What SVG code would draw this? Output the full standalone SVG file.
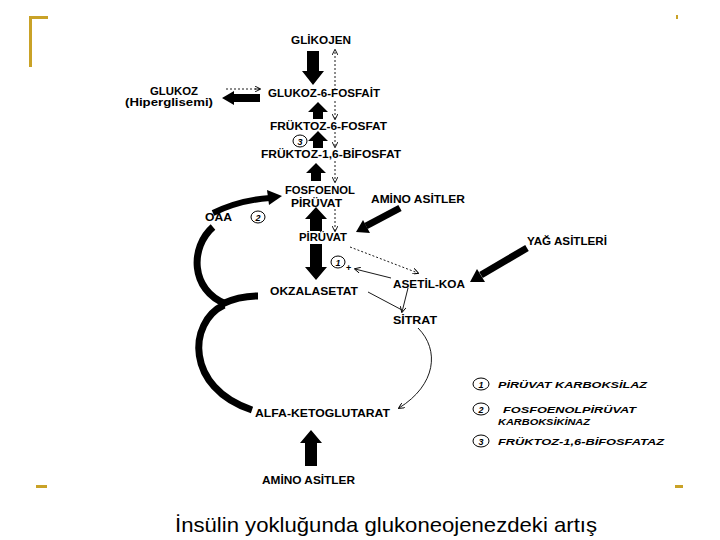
<svg xmlns="http://www.w3.org/2000/svg" width="720" height="540" viewBox="0 0 720 540">
<defs>
<marker id="ah" viewBox="0 0 8 8" refX="7" refY="4" markerWidth="6" markerHeight="6" orient="auto" markerUnits="userSpaceOnUse">
<path d="M0,0 L8,4 L0,8" fill="none" stroke="#000" stroke-width="1.2"/>
</marker>
</defs>
<style>
.l{font-family:"Liberation Sans",Arial,sans-serif;font-weight:bold;font-size:10px;fill:#000}
.g{font-family:"Liberation Sans",Arial,sans-serif;font-weight:bold;font-style:italic;font-size:9.5px;fill:#000}
.n{font-family:"Liberation Sans",Arial,sans-serif;font-weight:bold;font-style:italic;font-size:9px;fill:#000;text-anchor:middle}
.c{fill:none;stroke:#000;stroke-width:1}
.blk{fill:#000}
.thick{fill:none;stroke:#000;stroke-width:7}
.thin{fill:none;stroke:#000;stroke-width:0.9}
.dash{fill:none;stroke:#000;stroke-width:0.9;stroke-dasharray:2,2}
.gold{fill:#C9A227}
</style>
<rect width="720" height="540" fill="#fff"/>
<g id="frame">
<rect class="gold" x="29" y="16" width="3" height="51"/>
<rect class="gold" x="29" y="16" width="19" height="3"/>
<rect class="gold" x="36" y="485" width="11" height="3"/>
<rect class="gold" x="675" y="485" width="8" height="3"/>
<rect class="gold" x="676" y="15" width="2" height="4"/>
</g>
<g id="connectors">
<path class="blk" d="M307,51 L319,51 L319,71 L324,71 L313,85 L302,71 L307,71 Z"/>
<path class="blk" d="M313,119 L313,112 L308,112 L318,102 L328,112 L323,112 L323,119 Z"/>
<path class="blk" d="M313,148 L313,141 L308,141 L318,131 L328,141 L323,141 L323,148 Z"/>
<path class="blk" d="M311,181 L311,173 L306,173 L316,163 L326,173 L321,173 L321,181 Z"/>
<path class="blk" d="M310,231 L310,219 L305,219 L316,207 L327,219 L322,219 L322,231 Z"/>
<path class="blk" d="M310,244 L322,244 L322,267 L327,267 L316,280 L305,267 L310,267 Z"/>
<path class="blk" d="M260,94 L234,94 L234,91 L222,98 L234,105 L234,102 L260,102 Z"/>
<path class="blk" d="M305,466 L305,443 L300,443 L311,430 L322,443 L317,443 L317,466 Z"/>
<line class="dash" x1="260" y1="89" x2="226" y2="89"/>
<line class="thin" x1="255" y1="89" x2="260" y2="89" marker-end="url(#ah)"/>
<line class="dash" x1="335" y1="90" x2="335" y2="50" marker-end="url(#ah)"/>
<line class="dash" x1="335" y1="101" x2="335" y2="119" marker-end="url(#ah)"/>
<line class="dash" x1="335" y1="132" x2="335" y2="147" marker-end="url(#ah)"/>
<line class="dash" x1="335" y1="161" x2="335" y2="182" marker-end="url(#ah)"/>
<line class="dash" x1="335" y1="209" x2="335" y2="231" marker-end="url(#ah)"/>
<line class="thick" x1="400" y1="208" x2="366" y2="226"/>
<polygon class="blk" points="356,232 370,233 363,220"/>
<line class="thick" x1="527" y1="248" x2="481" y2="275"/>
<polygon class="blk" points="470,282 485,282 477,269"/>
<path class="thick" d="M213,213 Q240,200 270,198" style="stroke-width:6"/>
<polygon class="blk" points="282,196 267,190 269,205"/>
<path class="thick" d="M213,227 C190,247 190,290 226,304"/>
<path class="thick" d="M224,305 C188,322 185,388 252,410"/>
<path class="thick" d="M222,304 C235,298 248,296 258,296"/>
<line class="dash" x1="350" y1="247" x2="418" y2="273" marker-end="url(#ah)"/>
<line class="thin" x1="391" y1="278" x2="355" y2="269" marker-end="url(#ah)"/>
<line class="thin" x1="368" y1="292" x2="402" y2="310"/>
<line class="thin" x1="408" y1="288" x2="402" y2="312" marker-end="url(#ah)"/>
<path class="thin" d="M418,328 C440,350 436,385 399,408" marker-end="url(#ah)"/>
</g>
<g id="n-glikojen"><text class="l" x="291" y="44" textLength="60" lengthAdjust="spacingAndGlyphs">GLİKOJEN</text></g>
<g id="n-g6p"><text class="l" x="268" y="97" textLength="112" lengthAdjust="spacingAndGlyphs">GLUKOZ-6-FOSFAİT</text></g>
<g id="n-glukoz">
<text class="l" x="150" y="95" textLength="48" lengthAdjust="spacingAndGlyphs">GLUKOZ</text>
<text class="l" x="125" y="106" textLength="88" lengthAdjust="spacingAndGlyphs">(Hiperglisemi)</text>
</g>
<g id="n-f6p"><text class="l" x="270" y="130" textLength="117" lengthAdjust="spacingAndGlyphs">FRÜKTOZ-6-FOSFAT</text></g>
<g id="n-c3"><ellipse class="c" cx="300" cy="141" rx="7" ry="6"/><text class="n" x="300" y="144.5">3</text></g>
<g id="n-f16bp"><text class="l" x="261" y="158" textLength="140" lengthAdjust="spacingAndGlyphs">FRÜKTOZ-1,6-BİFOSFAT</text></g>
<g id="n-pep">
<text class="l" x="285" y="194" textLength="70" lengthAdjust="spacingAndGlyphs">FOSFOENOL</text>
<text class="l" x="291" y="207" textLength="51" lengthAdjust="spacingAndGlyphs">PİRÜVAT</text>
</g>
<g id="n-amino1"><text class="l" x="371" y="203" textLength="94" lengthAdjust="spacingAndGlyphs">AMİNO ASİTLER</text></g>
<g id="n-oaa"><text class="l" x="205" y="221" textLength="27" lengthAdjust="spacingAndGlyphs">OAA</text></g>
<g id="n-c2"><ellipse class="c" cx="258" cy="217" rx="7" ry="6"/><text class="n" x="258" y="220.5">2</text></g>
<g id="n-piruvat"><text class="l" x="299" y="241" textLength="48" lengthAdjust="spacingAndGlyphs">PİRÜVAT</text></g>
<g id="n-yag"><text class="l" x="527" y="245" textLength="80" lengthAdjust="spacingAndGlyphs">YAĞ ASİTLERİ</text></g>
<g id="n-c1"><ellipse class="c" cx="338" cy="262" rx="7" ry="6"/><text class="n" x="338" y="265.5">1</text>
<text class="l" x="346" y="271" style="font-size:9px">+</text></g>
<g id="n-asetil"><text class="l" x="393" y="288" textLength="72" lengthAdjust="spacingAndGlyphs">ASETİL-KOA</text></g>
<g id="n-okzal"><text class="l" x="270" y="295" textLength="88" lengthAdjust="spacingAndGlyphs">OKZALASETAT</text></g>
<g id="n-sitrat"><text class="l" x="393" y="324" textLength="44" lengthAdjust="spacingAndGlyphs">SİTRAT</text></g>
<g id="n-alfa"><text class="l" x="255" y="417" textLength="135" lengthAdjust="spacingAndGlyphs">ALFA-KETOGLUTARAT</text></g>
<g id="n-amino2"><text class="l" x="262" y="484" textLength="93" lengthAdjust="spacingAndGlyphs">AMİNO ASİTLER</text></g>
<g id="legend">
<ellipse class="c" cx="481" cy="384" rx="8" ry="6"/><text class="n" x="481" y="387.5">1</text>
<text class="g" x="498" y="388" textLength="149" lengthAdjust="spacingAndGlyphs">PİRÜVAT KARBOKSİLAZ</text>
<ellipse class="c" cx="481" cy="409" rx="8" ry="6"/><text class="n" x="481" y="412.5">2</text>
<text class="g" x="503" y="413" textLength="133" lengthAdjust="spacingAndGlyphs">FOSFOENOLPİRÜVAT</text>
<text class="g" x="498" y="425" textLength="92" lengthAdjust="spacingAndGlyphs">KARBOKSİKİNAZ</text>
<ellipse class="c" cx="481" cy="441" rx="8" ry="6"/><text class="n" x="481" y="444.5">3</text>
<text class="g" x="498" y="445" textLength="166" lengthAdjust="spacingAndGlyphs">FRÜKTOZ-1,6-BİFOSFATAZ</text>
</g>
<g id="title"><text x="175" y="532" textLength="422" lengthAdjust="spacingAndGlyphs" style="font-family:'Liberation Sans',Arial,sans-serif;font-size:21px;fill:#000">İnsülin yokluğunda glukoneojenezdeki artış</text></g>
</svg>
